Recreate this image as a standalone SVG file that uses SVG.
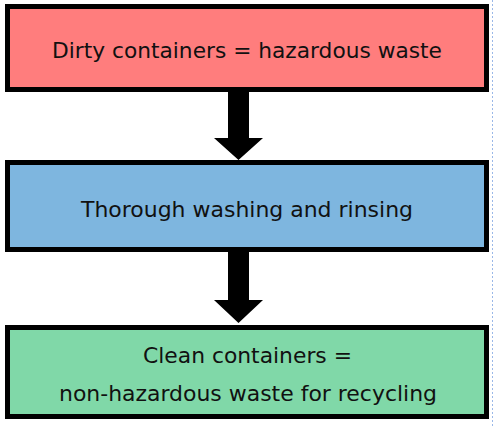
<svg xmlns="http://www.w3.org/2000/svg" width="494" height="426" viewBox="0 0 494 426">
<style>
.box{stroke:#000;stroke-width:5}
.t{font-family:"DejaVu Sans","Liberation Sans",sans-serif;font-size:21px;fill:#111;text-anchor:middle}
.arr{fill:#000}
</style>
<rect width="494" height="426" fill="#fff"/>
<line x1="492.5" y1="0" x2="492.5" y2="426" stroke="#9ab8e8" stroke-width="1" stroke-dasharray="2,2"/>
<g id="connectors">
<path class="arr" d="M228,92 H249 V138 H263 L238.5,160 L214,138 H228 Z"/>
<path class="arr" d="M228,252 H249 V300 H263 L238.5,323 L214,300 H228 Z"/>
</g>
<g id="node1">
<rect class="box" x="7.5" y="6.5" width="479" height="83" fill="#FF7D7D"/>
<text class="t" x="247" y="58" textLength="390" lengthAdjust="spacingAndGlyphs">Dirty containers = hazardous waste</text>
</g>
<g id="node2">
<rect class="box" x="7.5" y="162.5" width="479" height="87" fill="#7EB6DF"/>
<text class="t" x="247" y="217" textLength="332" lengthAdjust="spacingAndGlyphs">Thorough washing and rinsing</text>
</g>
<g id="node3">
<rect class="box" x="7.5" y="327.5" width="479" height="89" fill="#80D8A8"/>
<text class="t" x="247.5" y="363" textLength="209" lengthAdjust="spacingAndGlyphs">Clean containers =</text>
<text class="t" x="248" y="401" textLength="378" lengthAdjust="spacingAndGlyphs">non-hazardous waste for recycling</text>
</g>
</svg>
